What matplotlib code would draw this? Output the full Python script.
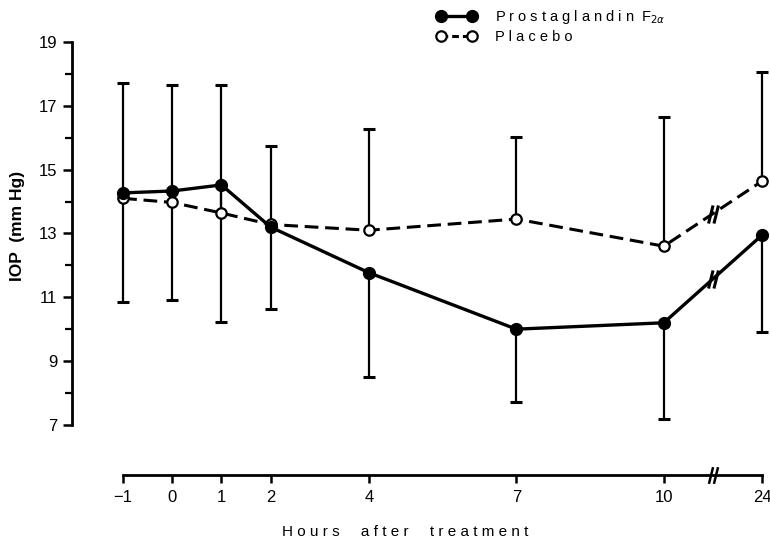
import numpy as np
import matplotlib
matplotlib.use("Agg")
import matplotlib.pyplot as plt
from matplotlib.path import Path
from matplotlib.lines import Line2D

# данные
hours = [-1, 0, 1, 2, 4, 7, 10, 24]
pgf = [14.27, 14.33, 14.52, 13.2, 11.77, 10.0, 10.2, 12.95]
placebo = [14.1, 13.97, 13.64, 13.28, 13.1, 13.45, 12.6, 14.64]
# концы «усов»: вверх от плацебо, вниз от PGF2a
placebo_upper = [17.72, 17.65, 17.65, 15.75, 16.27, 16.02, 16.65, 18.06]
pgf_lower = [10.85, 10.9, 10.24, 10.63, 8.5, 7.73, 7.2, 9.9]
yticks = [7, 9, 11, 13, 15, 17, 19]

# ось с разрывом: 24 ч рисуется на месте «12»
xpos = np.array([h if h <= 10 else 12 for h in hours], dtype=float)
brk = 11.0

plt.rcParams['font.family'] = ['Liberation Sans', 'DejaVu Sans']

fig = plt.figure(figsize=(7.7, 5.45), dpi=100)
ax = fig.add_axes([72 / 770, 70 / 545, 696 / 770, 445.8 / 545])
ax.set_xlim(-2.04, 12.12)
ax.set_ylim(5.43, 19.4)

# усы
ax.vlines(xpos, placebo, placebo_upper, color='black', lw=1.6, zorder=1)
ax.vlines(xpos, pgf_lower, pgf, color='black', lw=1.6, zorder=1)
ax.plot(xpos, placebo_upper, ls='none', marker='_', ms=8.5, mew=2.2, color='black', zorder=1)
ax.plot(xpos, pgf_lower, ls='none', marker='_', ms=8.5, mew=2.2, color='black', zorder=1)

# линии
ax.plot(xpos, placebo, color='black', lw=2.2, dashes=(4.5, 2.2), zorder=2,
        marker='o', ms=7.5, mfc='white', mec='black', mew=1.6)
ax.plot(xpos, pgf, color='black', lw=2.4, zorder=3,
        marker='o', ms=8.5, mfc='black', mec='black')

# значки разрыва «//»
brk_marker = Path([(-0.55, -1), (-0.05, 1), (0.05, -1), (0.55, 1)],
                  [Path.MOVETO, Path.LINETO, Path.MOVETO, Path.LINETO])
for series in (pgf, placebo):
    yb = np.interp(brk, xpos, series)
    ax.plot([brk], [yb], marker=brk_marker, ms=13, mew=2.2, color='black',
            ls='none', zorder=4)
ax.plot([brk], [5.43], marker=brk_marker, ms=12, mew=1.8, color='black',
        ls='none', clip_on=False, zorder=4)

# оси
for s in ('top', 'right'):
    ax.spines[s].set_visible(False)
ax.spines['left'].set_bounds(7, 19)
ax.spines['bottom'].set_bounds(-1, 12)
ax.spines['left'].set_linewidth(2)
ax.spines['bottom'].set_linewidth(2)

ax.set_yticks(yticks)
ax.set_yticks(np.arange(8, 19, 2), minor=True)
ax.set_yticklabels([str(v) for v in yticks], fontsize=12)
ax.tick_params(axis='y', which='major', direction='out', length=6.5, width=1.8, pad=4)
ax.tick_params(axis='y', which='minor', direction='out', length=5, width=1.6)

ax.set_xticks(xpos)
ax.set_xticklabels(['\u22121' if h < 0 else str(h) for h in hours], fontsize=12)
ax.tick_params(axis='x', direction='out', length=6, width=1.8, pad=5)

fig.text(405 / 770, 1 - 532 / 545,
         'H o u r s     a f t e r     t r e a t m e n t',
         ha='center', va='center', fontsize=11)
fig.text(18 / 770, 1 - 226 / 545, 'IOP  (mm Hg)', rotation=90,
         ha='center', va='center', fontsize=12.5, weight='bold')

handles = [
    Line2D([], [], color='black', lw=2.4, marker='o', ms=8.5, mfc='black'),
    Line2D([], [], color='black', lw=2.2, dashes=(2.2, 1.3), marker='o', ms=7.5,
           mfc='white', mew=1.6),
]
labels = ['P r o s t a g l a n d i n  F$_{2\\alpha}$', 'P l a c e b o']
fig.legend(handles, labels, loc='upper left', bbox_to_anchor=(437 / 770, 1 - 8 / 545),
           frameon=False, fontsize=10.5, numpoints=2, handlelength=2.7,
           handletextpad=1.25, labelspacing=0.25, borderpad=0, borderaxespad=0)

fig.savefig('out.png', dpi=100)
